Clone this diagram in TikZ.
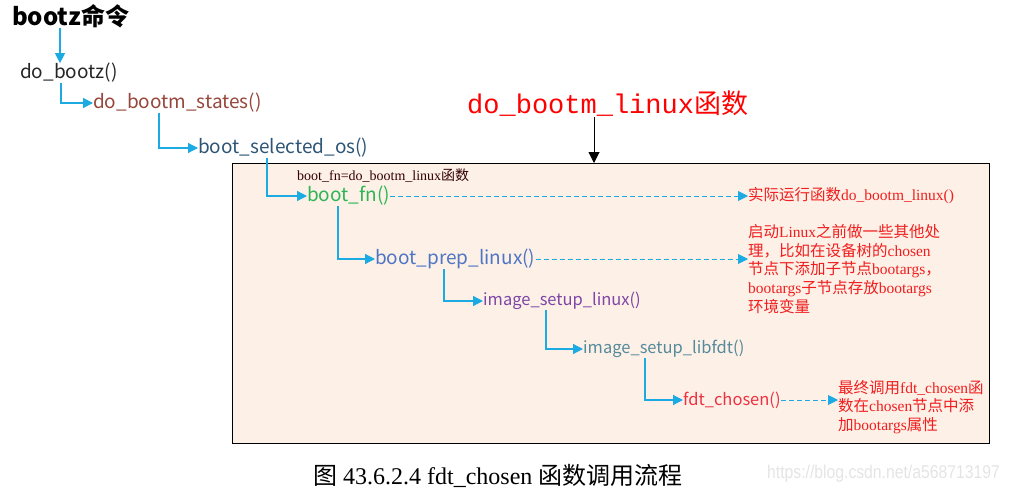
\documentclass[tikz,border=0pt]{standalone}
\usepackage{fontspec}
\setmainfont{Liberation Serif}
\newfontfamily\cjk{Noto Sans CJK SC}
\newfontfamily\monof{Liberation Mono}
\newfontfamily\wmfont[FakeStretch=0.85]{Liberation Sans}
\usetikzlibrary{arrows.meta}
\newcommand\zhs[1]{{\cjk #1}}
\definecolor{conncol}{RGB}{28,170,226}
\definecolor{boxfill}{RGB}{253,240,231}
\definecolor{cstates}{RGB}{150,70,58}
\definecolor{cselos}{RGB}{45,85,118}
\definecolor{cfn}{RGB}{45,182,85}
\definecolor{cprep}{RGB}{78,118,196}
\definecolor{cisl}{RGB}{125,70,165}
\definecolor{cislf}{RGB}{85,138,155}
\definecolor{cchosen}{RGB}{238,48,66}
\definecolor{notered}{RGB}{240,30,30}
\definecolor{wmgray}{RGB}{228,228,228}
\tikzset{
  fn/.style={anchor=west, inner sep=0pt, font=\cjk\fontsize{19}{21}\selectfont},
  fnsmall/.style={anchor=west, inner sep=0pt, font=\cjk\fontsize{16.5}{19}\selectfont},
  conn/.style={draw=conncol, line width=1.2pt, -{Triangle[length=10pt,width=10pt]}},
  dconn/.style={draw=conncol, line width=0.9pt, dash pattern=on 5pt off 3pt, -{Triangle[length=10pt,width=10pt]}},
  note/.style={anchor=west, inner sep=0pt, align=left, text=notered, font=\fontsize{15.5}{18.6}\selectfont},
}
\begin{document}
\begin{tikzpicture}[x=1pt,y=-1pt]
\useasboundingbox (0,0) rectangle (1010,493);
% box
\node[draw=black, line width=1pt, fill=boxfill, minimum width=757pt, minimum height=280pt, anchor=north west, inner sep=0pt] (box) at (232,163) {};
% title
\node[anchor=west, inner sep=0pt, text=red, font=\fontsize{27}{29}\selectfont] (title) at (467,104) {{\monof do\_bootm\_linux}{\cjk 函数}};
\draw[line width=1pt, -{Triangle[length=11pt,width=11pt]}] ([xshift=127pt]title.south west) -- ([xshift=127pt]title.south west |- box.north);
% chain
\node[anchor=west, inner sep=0pt, font=\cjk\bfseries\fontsize{24}{26}\selectfont] (bootz) at (12,16) {bootz命令};
\node[fn, text=black!85] (dobootz) at (20,73) {do\_bootz()};
\node[fn, text=cstates] (states) at (93,103) {do\_bootm\_states()};
\node[fn, text=cselos] (selos) at (198,148) {boot\_selected\_os()};
\node[anchor=west, inner sep=0pt, text=black!80!red, font=\fontsize{14}{16}\selectfont] (fnlabel) at (297,176) {boot\_fn=do\_bootm\_linux\zhs{函数}};
\node[fn, text=cfn] (bootfn) at (307,196) {boot\_fn()};
\node[fn, text=cprep] (prep) at (375,259) {boot\_prep\_linux()};
\node[fnsmall, text=cisl] (isl) at (483,301) {image\_setup\_linux()};
\node[fnsmall, text=cislf] (islf) at (583,349) {image\_setup\_libfdt()};
\node[fnsmall, text=cchosen] (chosen) at (683,400) {fdt\_chosen()};
% notes
\node[note] (note1) at (748,196) {\zhs{实际运行函数}do\_bootm\_linux()};
\node[note] (note2) at (748,269) {\zhs{启动}Linux\zhs{之前做一些其他处}\\\zhs{理，比如在设备树的}chosen\\\zhs{节点下添加子节点}bootargs\zhs{，}\\bootargs\zhs{子节点存放}bootargs\\\zhs{环境变量}};
\node[note] (note3) at (838,407) {\zhs{最终调用}fdt\_chosen\zhs{函}\\\zhs{数在}chosen\zhs{节点中添}\\\zhs{加}bootargs\zhs{属性}};
% connectors
\draw[conn] ([xshift=48pt]bootz.south west) -- ([xshift=40pt]dobootz.north west);
\draw[conn] ([xshift=41pt]dobootz.south west) |- (states.west);
\draw[conn] ([xshift=66pt]states.south west) |- (selos.west);
\draw[conn] ([xshift=69pt]selos.south west) |- (bootfn.west);
\draw[conn] ([xshift=31pt]bootfn.south west) |- (prep.west);
\draw[conn] ([xshift=69pt]prep.south west) |- (isl.west);
\draw[conn] ([xshift=63pt]isl.south west) |- (islf.west);
\draw[conn] ([xshift=62pt]islf.south west) |- (chosen.west);
\draw[dconn] (bootfn.east) -- (note1.west);
\draw[dconn] (prep.east) -- (prep.east -| note2.west);
\draw[dconn] (chosen.east) -- (chosen.east -| note3.west);
% caption
\node[anchor=west, inner sep=0pt, font=\fontsize{24}{26}\selectfont] (caption) at (313,476) {\zhs{图} 43.6.2.4 fdt\_chosen \zhs{函数调用流程}};
\node[anchor=west, inner sep=0pt, text=wmgray, font=\wmfont\fontsize{18.5}{20}\selectfont] (wm) at (767,474) {https://blog.csdn.net/a568713197};
\end{tikzpicture}
\end{document}
